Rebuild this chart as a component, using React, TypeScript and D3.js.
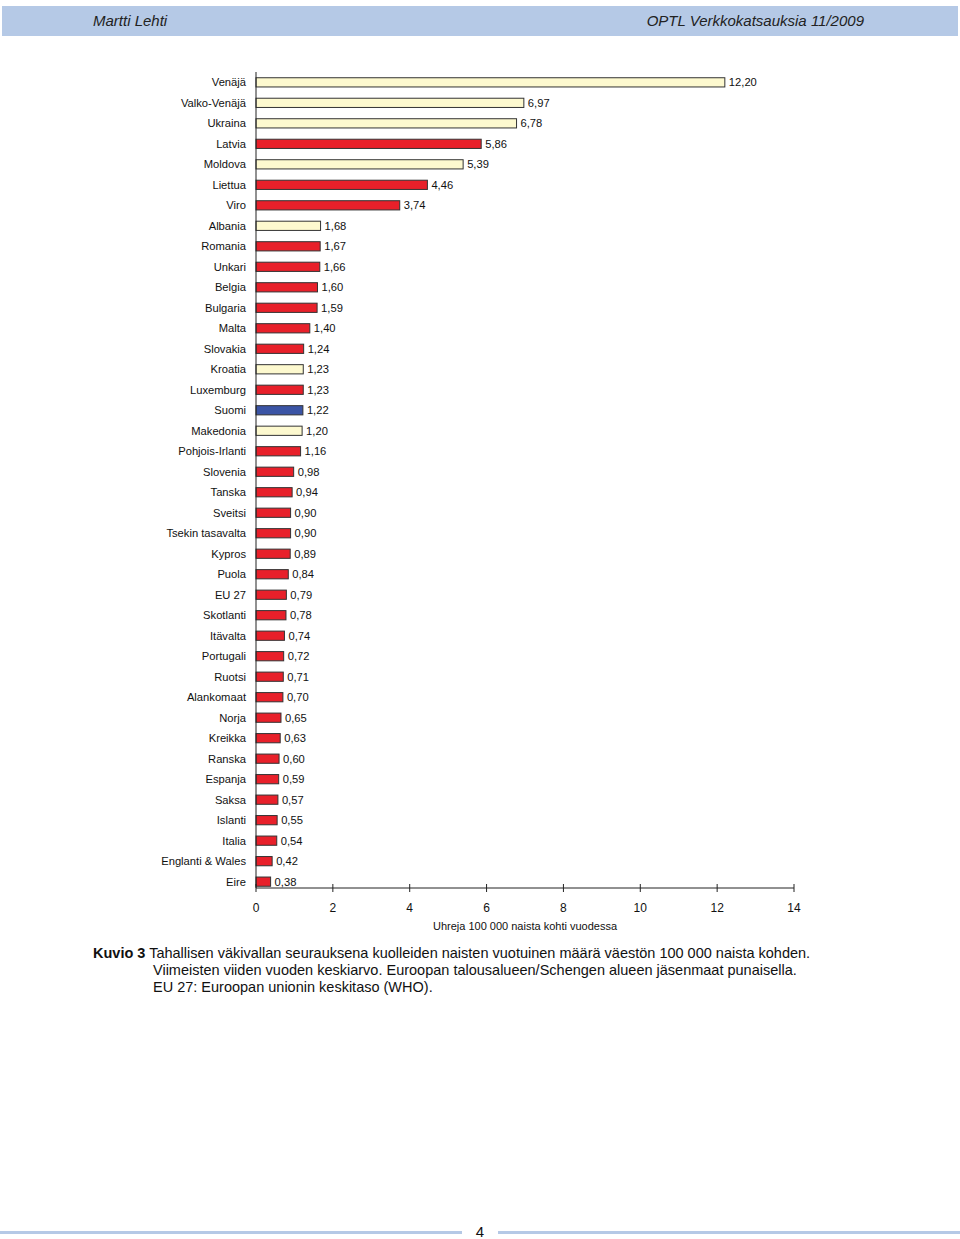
import React from "react";
import * as d3 from "d3";

const countries = ["Venäjä","Valko-Venäjä","Ukraina","Latvia","Moldova","Liettua","Viro","Albania","Romania","Unkari","Belgia","Bulgaria","Malta","Slovakia","Kroatia","Luxemburg","Suomi","Makedonia","Pohjois-Irlanti","Slovenia","Tanska","Sveitsi","Tsekin tasavalta","Kypros","Puola","EU 27","Skotlanti","Itävalta","Portugali","Ruotsi","Alankomaat","Norja","Kreikka","Ranska","Espanja","Saksa","Islanti","Italia","Englanti & Wales","Eire"];
const values = [12.20,6.97,6.78,5.86,5.39,4.46,3.74,1.68,1.67,1.66,1.60,1.59,1.40,1.24,1.23,1.23,1.22,1.20,1.16,0.98,0.94,0.90,0.90,0.89,0.84,0.79,0.78,0.74,0.72,0.71,0.70,0.65,0.63,0.60,0.59,0.57,0.55,0.54,0.42,0.38];
const groups = ["muu","muu","muu","ETA","muu","ETA","ETA","muu","ETA","ETA","ETA","ETA","ETA","ETA","muu","ETA","Suomi","muu","ETA","ETA","ETA","ETA","ETA","ETA","ETA","ETA","ETA","ETA","ETA","ETA","ETA","ETA","ETA","ETA","ETA","ETA","ETA","ETA","ETA","ETA"];
const xTicks = [0,2,4,6,8,10,12,14];

const colorMap: Record<string,string> = { ETA: "#e8202a", muu: "#fdf9cf", Suomi: "#3b54a5" };

export default function App() {
  const x = d3.scaleLinear().domain([0, 14]).range([256, 794]);
  const y = d3.scaleBand().domain(countries).range([72, 892]).paddingInner(0.55).paddingOuter(0.28);
  const fmt = (v: number) => v.toFixed(2).replace(".", ",");
  const font = "'Liberation Sans', Arial, sans-serif";
  return (
    <svg width={960} height={1239} style={{ position: "absolute", left: 0, top: 0 }} fontFamily={font}>
      <rect x={0} y={0} width={960} height={1239} fill="#fff" />
      <rect x={2} y={6} width={956} height={30} fill="#b5c9e6" />
      <text x={93} y={26} fontSize={15} fontStyle="italic" fill="#222">Martti Lehti</text>
      <text x={864} y={26} fontSize={15} fontStyle="italic" fill="#222" textAnchor="end">OPTL Verkkokatsauksia 11/2009</text>

      {countries.map((c, i) => {
        const yc = (y(c) as number) + y.bandwidth() / 2;
        return (
          <g key={c}>
            <text x={246} y={yc} dy="0.35em" fontSize={11.2} textAnchor="end" fill="#111">{c}</text>
            <rect x={x(0)} y={y(c)} width={x(values[i]) - x(0)} height={y.bandwidth()} fill={colorMap[groups[i]]} stroke="#333" strokeWidth={1} />
            <text x={x(values[i]) + 4} y={yc} dy="0.35em" fontSize={11.2} fill="#111">{fmt(values[i])}</text>
          </g>
        );
      })}

      <line x1={256} x2={256} y1={72} y2={888} stroke="#222" strokeWidth={1} />
      <line x1={256} x2={794} y1={888} y2={888} stroke="#222" strokeWidth={1} />
      {xTicks.map((t) => (
        <g key={t}>
          <line x1={x(t)} x2={x(t)} y1={884} y2={892} stroke="#222" strokeWidth={1} />
          <text x={x(t)} y={912} fontSize={12} textAnchor="middle" fill="#111">{t}</text>
        </g>
      ))}
      <text x={525} y={930} fontSize={11} textAnchor="middle" fill="#111">Uhreja 100 000 naista kohti vuodessa</text>

      <text x={93} y={958} fontSize={14.5} fill="#111"><tspan fontWeight="bold">Kuvio 3</tspan> Tahallisen väkivallan seurauksena kuolleiden naisten vuotuinen määrä väestön 100 000 naista kohden.</text>
      <text x={153} y={975} fontSize={14.5} fill="#111">Viimeisten viiden vuoden keskiarvo. Euroopan talousalueen/Schengen alueen jäsenmaat punaisella.</text>
      <text x={153} y={992} fontSize={14.5} fill="#111">EU 27: Euroopan unionin keskitaso (WHO).</text>

      <rect x={0} y={1231} width={462} height={3} fill="#b5c9e6" />
      <rect x={498} y={1231} width={462} height={3} fill="#b5c9e6" />
      <text x={480} y={1237} fontSize={15} textAnchor="middle" fill="#111">4</text>
    </svg>
  );
}
